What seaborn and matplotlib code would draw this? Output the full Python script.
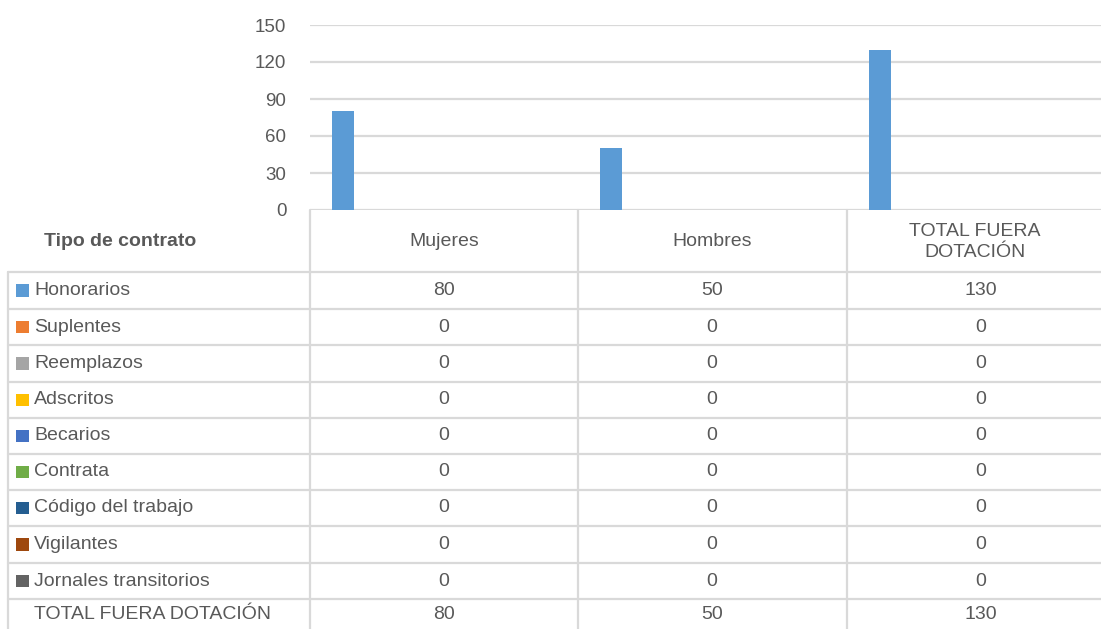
import matplotlib
matplotlib.use("Agg")
import matplotlib.pyplot as plt
from matplotlib.lines import Line2D
from matplotlib.patches import Rectangle
import seaborn as sns
import pandas as pd

# ---------------- data ----------------
categories = ["Mujeres", "Hombres", "TOTAL FUERA DOTACIÓN"]
header_labels = ["Mujeres", "Hombres", "TOTAL FUERA\nDOTACIÓN"]
series_names = ["Honorarios", "Suplentes", "Reemplazos", "Adscritos", "Becarios",
                "Contrata", "Código del trabajo", "Vigilantes", "Jornales transitorios"]
honorarios = [80, 50, 130]
suplentes = [0, 0, 0]
reemplazos = [0, 0, 0]
adscritos = [0, 0, 0]
becarios = [0, 0, 0]
contrata = [0, 0, 0]
codigo_trabajo = [0, 0, 0]
vigilantes = [0, 0, 0]
jornales = [0, 0, 0]
totals = [80, 50, 130]
total_label = "TOTAL FUERA DOTACIÓN"
table_title = "Tipo de contrato"
y_ticks = [0, 30, 60, 90, 120, 150]

series_values = [honorarios, suplentes, reemplazos, adscritos, becarios,
                 contrata, codigo_trabajo, vigilantes, jornales]
colors = ["#5B9BD5", "#ED7D31", "#A5A5A5", "#FFC000", "#4472C4",
          "#70AD47", "#255E91", "#9E480E", "#636363"]

rows = []
for name, vals in zip(series_names, series_values):
    for c, v in zip(categories, vals):
        rows.append({"categoria": c, "tipo": name, "valor": v})
df = pd.DataFrame(rows)

# ---------------- figure ----------------
sns.set_theme(style="white")
plt.rcParams["font.family"] = ["Liberation Sans", "DejaVu Sans"]

W, H = 1101, 629
fig = plt.figure(figsize=(W / 100, H / 100), dpi=100)
fig.patch.set_facecolor("white")

def fx(x):
    return x / W

def fy(y):
    return 1 - y / H

TXT = "#595959"
GRID = "#D9D9D9"

x_left, x_right = 310, 1115.5
y_top, y_zero = 25, 210
ax = fig.add_axes([fx(x_left), fy(y_zero), (x_right - x_left) / W, (y_zero - y_top) / H])
sns.barplot(data=df, x="categoria", y="valor", hue="tipo", hue_order=series_names,
            order=categories, palette=colors, saturation=1, width=0.85, gap=0.13,
            linewidth=0, legend=False, ax=ax)
ax.set_xlim(-0.5, 2.5)
ax.set_ylim(0, 150)
ax.set_yticks(y_ticks)
ax.set_xticks([])
ax.set_xlabel("")
ax.set_ylabel("")
for s in ax.spines.values():
    s.set_visible(False)
ax.yaxis.grid(True, color=GRID, linewidth=1.6)
ax.set_axisbelow(True)
ax.tick_params(axis="y", length=0, pad=17, labelsize=13.5, labelcolor=TXT)

# ---------------- data table ----------------
col_lines = [310, 578, 847]
col_centers = [444, 712, 981]
header_centers = [444, 712, 975]
row_lines = [272, 309, 345, 382, 418, 454, 490, 526, 563, 599, 630]
row_centers = [(row_lines[i] + row_lines[i + 1]) / 2 for i in range(len(row_lines) - 1)]

def hline(y, x0, x1):
    fig.add_artist(Line2D([fx(x0), fx(x1)], [fy(y), fy(y)], color=GRID, lw=1.6))

def vline(x, y0, y1):
    fig.add_artist(Line2D([fx(x), fx(x)], [fy(y0), fy(y1)], color=GRID, lw=1.6))

for y in row_lines[:-1]:
    hline(y, 8, W + 5)
for x in col_lines:
    vline(x, 210, H + 5)
vline(8, 272, H + 5)

fs = 14
fig.text(fx(120), fy(241), table_title, ha="center", va="center",
         fontsize=fs, fontweight="bold", color=TXT)
for c, lab in zip(header_centers, header_labels):
    fig.text(fx(c), fy(242), lab, ha="center", va="center", fontsize=fs,
             color=TXT, linespacing=1.3)

sq = 12.5
for i, (name, vals) in enumerate(zip(series_names, series_values)):
    yc = row_centers[i]
    fig.add_artist(Rectangle((fx(16), fy(yc + sq / 2)), sq / W, sq / H,
                             transform=fig.transFigure, color=colors[i], lw=0))
    fig.text(fx(34), fy(yc), name, ha="left", va="center", fontsize=fs, color=TXT)
    for c, v in zip(col_centers, vals):
        fig.text(fx(c), fy(yc), f"{v}", ha="center", va="center", fontsize=fs, color=TXT)

yc = row_centers[len(series_names)]
fig.text(fx(34), fy(yc), total_label, ha="left", va="center", fontsize=fs, color=TXT)
for c, v in zip(col_centers, totals):
    fig.text(fx(c), fy(yc), f"{v}", ha="center", va="center", fontsize=fs, color=TXT)

fig.savefig("out.png", dpi=100, facecolor="white")
